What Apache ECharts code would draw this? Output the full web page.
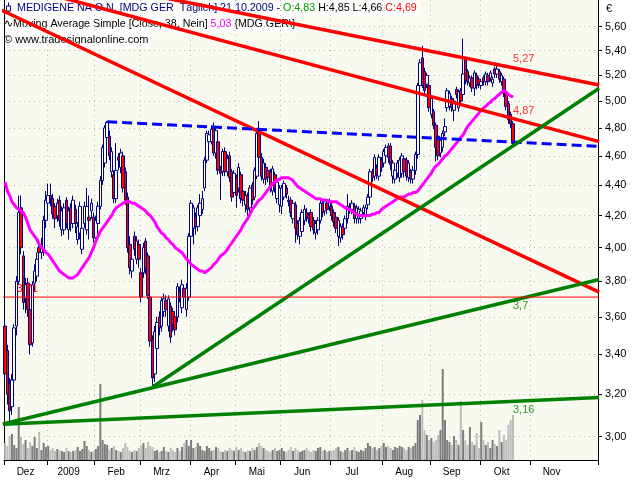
<!DOCTYPE html>
<html><head><meta charset="utf-8">
<script src="https://cdn.jsdelivr.net/npm/echarts@6/dist/echarts.min.js"></script>
<style>html,body{margin:0;padding:0;background:#fff}#c{width:640px;height:480px}</style>
</head><body><div id="c"></div>
<script>
// ---------- DATA ----------
const yTickValues = [3.0,3.2,3.4,3.6,3.8,4.0,4.2,4.4,4.6,4.8,5.0,5.2,5.4,5.6];
const monthTickLabels = ['Dez','2009','Feb','Mrz','Apr','Mai','Jun','Jul','Aug','Sep','Okt','Nov'];
const holidays = ['2008-12-24','2008-12-25','2008-12-26','2008-12-31','2009-01-01','2009-04-10','2009-04-13','2009-05-01','2009-12-24','2009-12-25','2009-12-31'];
const firstDay = '2008-12-01';
const totalSlots = 262;
// [open, close, low, high]
const candles = [
[3.55,3.30,3.26,3.58],[3.42,3.20,3.15,3.45],[3.25,3.12,3.05,3.28],[3.14,3.27,3.10,3.30],[3.27,3.54,3.22,3.56],
[3.55,3.80,3.50,3.83],[3.80,4.22,3.78,4.33],[4.25,4.00,3.96,4.33],[3.95,3.68,3.64,3.98],[3.70,3.78,3.62,3.82],
[3.79,3.64,3.60,3.82],[3.64,3.45,3.40,3.66],[3.46,3.78,3.44,3.80],[3.79,3.86,3.74,3.90],[3.83,3.93,3.80,3.97],
[4.00,3.97,3.93,4.05],[3.97,4.02,3.93,4.06],[3.99,4.17,3.95,4.20],[4.17,4.30,4.12,4.36],[4.28,4.33,4.24,4.41],
[4.33,4.31,4.26,4.41],[4.31,4.21,4.18,4.34],[4.26,4.18,4.12,4.28],[4.20,4.28,4.16,4.31],[4.30,4.17,4.13,4.33],
[4.11,4.23,4.07,4.26],[4.11,4.25,4.08,4.28],[4.30,4.15,4.12,4.32],[4.11,4.23,4.05,4.26],[4.25,4.15,4.10,4.28],
[4.15,4.30,4.12,4.33],[4.24,4.15,4.09,4.27],[4.05,4.13,4.02,4.16],[4.09,4.26,4.05,4.29],[3.99,4.12,3.96,4.15],
[4.15,4.26,4.12,4.29],[4.11,4.26,4.08,4.38],[4.19,4.17,4.05,4.33],[4.23,4.28,4.18,4.31],[4.19,4.06,4.03,4.22],
[4.06,4.17,4.02,4.20],[4.15,4.26,4.12,4.29],[4.26,4.43,4.24,4.46],[4.43,4.66,4.40,4.68],[4.55,4.80,4.52,4.82],
[4.73,4.84,4.70,4.85],[4.74,4.60,4.57,4.78],[4.49,4.63,4.45,4.66],[4.47,4.31,4.28,4.50],[4.31,4.50,4.28,4.69],
[4.59,4.57,4.50,4.62],[4.52,4.62,4.48,4.65],[4.60,4.38,4.35,4.63],[4.49,4.30,4.27,4.52],[4.32,4.00,3.97,4.35],
[4.02,3.88,3.84,4.07],[3.86,3.93,3.82,3.96],[4.07,3.99,3.95,4.10],[3.93,4.04,3.90,4.07],[4.02,3.93,3.88,4.05],
[3.85,3.71,3.68,3.88],[3.85,4.00,3.82,4.03],[4.04,3.88,3.84,4.06],[3.95,3.72,3.70,3.97],[3.71,3.47,3.44,3.73],
[3.48,3.28,3.235,3.50],[3.30,3.52,3.26,3.55],[3.43,3.57,3.40,3.60],[3.60,3.54,3.50,3.63],[3.55,3.69,3.52,3.71],
[3.63,3.70,3.60,3.73],[3.69,3.64,3.60,3.72],[3.55,3.70,3.52,3.72],[3.66,3.49,3.46,3.68],[3.63,3.56,3.52,3.65],
[3.60,3.53,3.50,3.62],[3.60,3.77,3.57,3.79],[3.74,3.71,3.68,3.77],[3.65,3.78,3.62,3.81],[3.76,3.71,3.66,3.78],
[3.64,3.76,3.60,3.79],[3.71,4.07,3.69,4.09],[4.07,4.28,4.04,4.30],[4.12,4.25,4.02,4.27],[4.19,4.13,4.08,4.22],
[4.13,4.25,4.10,4.27],[4.20,4.28,4.17,4.34],[4.24,4.31,4.21,4.36],[4.38,4.57,4.36,4.59],[4.57,4.76,4.55,4.78],
[4.70,4.75,4.67,4.78],[4.70,4.79,4.68,4.82],[4.80,4.62,4.60,4.84],[4.62,4.78,4.58,4.80],[4.70,4.50,4.47,4.73],
[4.50,4.48,4.30,4.53],[4.49,4.63,4.46,4.65],[4.63,4.49,4.46,4.66],[4.49,4.58,4.46,4.61],[4.60,4.45,4.42,4.63],
[4.49,4.32,4.29,4.51],[4.35,4.48,4.32,4.50],[4.45,4.33,4.25,4.47],[4.38,4.52,4.35,4.55],[4.47,4.31,4.28,4.49],
[4.36,4.30,4.26,4.38],[4.27,4.33,4.22,4.36],[4.33,4.24,4.20,4.35],[4.25,4.38,4.22,4.40],[4.40,4.30,4.27,4.42],
[4.32,4.50,4.30,4.52],[4.46,4.76,4.44,4.80],[4.79,4.59,4.57,4.85],[4.59,4.46,4.43,4.62],[4.44,4.55,4.41,4.58],
[4.52,4.44,4.40,4.55],[4.50,4.45,4.42,4.52],[4.49,4.38,4.35,4.51],[4.36,4.51,4.33,4.53],[4.47,4.38,4.35,4.49],
[4.31,4.42,4.28,4.44],[4.27,4.38,4.22,4.40],[4.26,4.38,4.21,4.40],[4.32,4.41,4.30,4.43],[4.38,4.34,4.31,4.40],
[4.30,4.29,4.26,4.33],[4.30,4.22,4.19,4.32],[4.18,4.28,4.15,4.30],[4.27,4.12,4.03,4.29],[4.15,4.08,4.05,4.17],
[4.07,4.17,4.02,4.19],[4.10,4.22,4.07,4.24],[4.17,4.24,4.14,4.27],[4.22,4.19,4.16,4.25],[4.20,4.18,4.15,4.22],
[4.22,4.13,4.10,4.24],[4.17,4.11,4.08,4.19],[4.09,4.15,4.05,4.17],[4.11,4.17,4.08,4.19],[4.17,4.28,4.15,4.30],
[4.28,4.22,4.19,4.30],[4.23,4.29,4.20,4.31],[4.28,4.24,4.21,4.30],[4.26,4.29,4.23,4.31],[4.26,4.20,4.17,4.28],
[4.22,4.16,4.13,4.24],[4.19,4.12,4.09,4.21],[4.07,4.17,4.01,4.19],[4.06,4.13,4.03,4.15],[4.13,4.08,4.05,4.15],
[4.12,4.18,4.09,4.20],[4.18,4.26,4.15,4.34],[4.26,4.24,4.21,4.28],[4.24,4.28,4.21,4.30],[4.26,4.18,4.15,4.28],
[4.18,4.25,4.15,4.27],[4.18,4.24,4.15,4.26],[4.18,4.23,4.15,4.25],[4.22,4.25,4.19,4.27],[4.20,4.25,4.17,4.27],
[4.27,4.32,4.24,4.34],[4.32,4.49,4.30,4.51],[4.49,4.45,4.42,4.51],[4.46,4.59,4.43,4.61],[4.52,4.47,4.44,4.54],
[4.46,4.59,4.43,4.61],[4.57,4.52,4.49,4.59],[4.55,4.63,4.52,4.65],[4.60,4.66,4.57,4.68],[4.67,4.59,4.55,4.69],
[4.67,4.54,4.50,4.69],[4.46,4.55,4.41,4.57],[4.44,4.50,4.41,4.52],[4.48,4.55,4.45,4.57],[4.45,4.57,4.42,4.59],
[4.48,4.60,4.45,4.62],[4.58,4.49,4.45,4.60],[4.57,4.46,4.43,4.59],[4.45,4.55,4.42,4.57],[4.49,4.44,4.41,4.51],
[4.44,4.50,4.41,4.53],[4.50,4.61,4.47,4.63],[4.61,5.12,4.58,5.14],[5.12,5.30,5.10,5.33],[5.34,5.12,5.10,5.44],
[5.23,5.08,5.05,5.26],[5.13,5.20,5.10,5.22],[5.12,4.95,4.92,5.14],[4.90,5.02,4.87,5.04],[4.92,4.82,4.79,4.94],
[4.82,4.66,4.56,4.84],[4.74,4.60,4.57,4.76],[4.62,4.71,4.59,4.73],[4.66,4.76,4.63,4.78],[4.77,4.81,4.74,4.87],
[4.95,5.08,4.92,5.10],[4.96,5.06,4.93,5.08],[5.02,4.95,4.92,5.04],[4.93,5.00,4.85,5.02],[5.09,5.05,5.02,5.11],
[4.95,5.07,4.92,5.09],[5.08,5.00,4.97,5.10],[5.05,5.21,5.02,5.50],[5.33,5.16,5.13,5.35],[5.23,5.15,5.12,5.25],
[5.14,5.18,5.11,5.20],[5.18,5.10,5.07,5.20],[5.10,5.22,5.04,5.24],[5.20,5.12,5.09,5.22],[5.17,5.13,5.10,5.19],
[5.12,5.15,5.09,5.17],[5.18,5.15,5.12,5.20],[5.15,5.21,5.12,5.23],[5.20,5.15,5.12,5.22],[5.18,5.22,5.15,5.24],
[5.14,5.17,5.11,5.19],[5.25,5.21,5.18,5.27],[5.21,5.25,5.18,5.28],[5.23,5.17,5.14,5.25],[5.15,5.20,5.12,5.22],
[5.17,5.06,5.03,5.19],[5.06,4.96,4.93,5.08],[4.98,4.86,4.83,5.00],[4.90,4.83,4.80,4.92],[4.83,4.69,4.66,4.85]
];
const ma38 = [
4.42,4.36,4.33,4.29,4.27,4.25,4.24,4.23,4.22,4.19,4.15,4.11,4.09,4.07,4.05,4.02,4.00,3.99,3.97,3.96,
3.94,3.92,3.90,3.88,3.86,3.85,3.84,3.83,3.82,3.82,3.82,3.83,3.84,3.86,3.88,3.90,3.92,3.94,3.97,4.00,
4.04,4.07,4.10,4.12,4.14,4.16,4.18,4.20,4.23,4.25,4.26,4.27,4.28,4.29,4.29,4.29,4.28,4.28,4.27,4.26,
4.25,4.24,4.23,4.21,4.20,4.18,4.16,4.13,4.11,4.09,4.08,4.06,4.05,4.03,4.02,4.00,3.99,3.98,3.97,3.95,
3.93,3.92,3.90,3.89,3.88,3.87,3.86,3.86,3.85,3.86,3.87,3.88,3.90,3.91,3.93,3.95,3.96,3.97,3.99,4.01,
4.03,4.05,4.07,4.09,4.11,4.14,4.16,4.18,4.21,4.24,4.26,4.28,4.30,4.31,4.33,4.35,4.37,4.39,4.41,4.42,
4.43,4.44,4.45,4.45,4.45,4.45,4.44,4.43,4.41,4.39,4.38,4.37,4.36,4.35,4.34,4.33,4.32,4.31,4.31,4.31,
4.30,4.30,4.30,4.29,4.29,4.29,4.29,4.28,4.27,4.26,4.25,4.24,4.24,4.23,4.22,4.21,4.20,4.20,4.20,4.20,
4.20,4.20,4.21,4.21,4.22,4.22,4.24,4.25,4.26,4.27,4.28,4.29,4.30,4.31,4.32,4.32,4.32,4.33,4.34,4.34,
4.35,4.35,4.36,4.38,4.40,4.42,4.44,4.46,4.48,4.51,4.53,4.54,4.56,4.58,4.60,4.61,4.63,4.65,4.67,4.69,
4.71,4.73,4.75,4.78,4.81,4.83,4.85,4.87,4.89,4.91,4.93,4.95,4.96,4.98,4.99,5.01,5.02,5.04,5.05,5.07,
5.08,5.07,5.05,5.04,5.03
];
const volume = [
17,14,24,26,15,12,53,23,16,20,12,18,14,23,12,28,10,17,13,
14,10,12,9,11,10,9,8,12,9,8,9,10,13,9,11,19,14,10,8,9,
11,14,76,20,16,15,10,12,14,10,9,8,12,17,13,9,8,10,9,12,
14,17,12,18,14,13,9,10,8,9,13,9,8,12,10,8,12,9,13,17,20,14,
20,12,13,17,14,10,9,14,12,9,10,13,12,9,8,10,9,12,10,9,
13,10,12,9,8,10,9,12,10,13,17,14,12,10,9,8,10,12,9,10,
12,9,8,10,13,9,12,10,8,9,10,12,9,8,10,9,12,13,9,10,8,9,
9,10,12,13,9,8,10,12,9,10,13,9,8,10,9,12,17,14,12,13,10,12,14,
17,13,14,12,10,13,12,14,13,12,10,13,12,14,17,40,45,60,30,25,20,
22,18,20,25,30,91,40,20,18,15,24,20,15,59,30,20,15,33,18,15,27,12,
38,20,15,18,12,20,16,14,30,18,25,20,35,40,45
];
// trend lines: [category index, price]
const trendUpperRed = [[60,5.893],[262,5.124]];
const trendMidRed = [[20,5.880],[262,4.701]];
const trendBigRed = [[-2,5.746],[262,3.738]];
const trendBlue = [[44.5,4.845],[262,4.666]];
const trendSteepGreen = [[65.2,3.235],[262,5.099]];
const trendMidGreen = [[-1,3.058],[262,3.811]];
const trendLowGreen = [[-1,3.057],[262,3.184]];
const supportLevel = 3.71;
const supportLine = [[-2,supportLevel],[262,supportLevel]];
const supportLabelIndex = 5;
// [category index, value, colour, side]
const lineLabels = [[224,5.27,'#ff0000','top'],[224,4.87,'#ff0000','top'],[224,3.7,'#008000','bottom'],[224,3.16,'#008000','bottom']];

// ---------- CATEGORIES ----------
const dates = [];
(function(){
  let d = new Date(firstDay + 'T12:00:00Z');
  while (dates.length < totalSlots) {
    const wd = d.getUTCDay();
    const s = d.toISOString().slice(0,10);
    if (wd !== 0 && wd !== 6 && holidays.indexOf(s) < 0) dates.push(s);
    d = new Date(d.getTime() + 86400000);
  }
})();
const monthStart = new Set(); const labelAt = {};
let mCount = 0;
for (let i = 0; i < dates.length; i++) {
  if (i === 0 || dates[i].slice(0,7) !== dates[i-1].slice(0,7)) {
    if (mCount < monthTickLabels.length) { monthStart.add(i); labelAt[i+9] = monthTickLabels[mCount]; }
    mCount++;
  }
}
const fmt = v => String(v).replace('.', ',');
const fmt2 = v => v.toFixed(2).replace('.', ',');
const last = candles[candles.length-1];
const lastDate = dates[candles.length-1].split('-').reverse().join('.');

const chart = echarts.init(document.getElementById('c'), null, {renderer:'canvas'});
const FONT = 'Liberation Sans';
const HF = '10.7px ' + FONT;
const trend = (data, color, width, type) => ({
  type:'line', data, symbol:'none', silent:true, clip:true, z:5,
  lineStyle:{color, width, type: type||'solid', cap:'butt'}
});
const supportSeries = trend(supportLine, '#ff0000', 1);
supportSeries.markPoint = {
  silent:true, symbol:'rect', symbolSize:1, itemStyle:{color:'rgba(0,0,0,0)'},
  label:{show:true, position:'top', align:'left', distance:2, color:'#ff0000', fontSize:11, fontFamily:FONT, formatter:fmt(supportLevel)},
  data:[{coord:[supportLabelIndex, supportLevel], value:supportLevel}]
};
supportSeries.z = 20;
chart.setOption({
  animation:false,
  backgroundColor:'#ffffff',
  grid:{left:4, right:42, top:0, bottom:20, show:true, backgroundColor:'#F8FAF0', borderWidth:0},
  xAxis:{
    type:'category', data:dates, boundaryGap:true,
    axisLine:{show:true, lineStyle:{color:'#000', width:1}},
    axisTick:{show:true, interval:(i)=>monthStart.has(i), length:5, lineStyle:{color:'#000'}},
    axisLabel:{interval:(i)=>labelAt[i]!==undefined, formatter:(v,i)=>labelAt[i]||'', fontSize:10, color:'#000', margin:7, fontFamily:FONT},
    splitLine:{show:true, interval:(i)=>monthStart.has(i), lineStyle:{color:'#b8b8b8', type:[1,4]}}
  },
  yAxis:[{
    type:'log', logBase:10, position:'right', min:2.895, max:5.832,
    axisLine:{show:true, lineStyle:{color:'#000'}},
    axisTick:{show:true, inside:false, length:4, customValues:yTickValues, lineStyle:{color:'#000'}},
    axisLabel:{customValues:yTickValues, formatter:fmt2, color:'#000', fontSize:11, margin:7, fontFamily:FONT},
    splitLine:{show:true, lineStyle:{color:'#b8b8b8', type:[1,4]}}
  },{
    type:'value', min:0, max:460, show:false
  },{
    type:'log', logBase:10, position:'left', min:2.895, max:5.832,
    axisLine:{show:true, lineStyle:{color:'#000'}}, axisTick:{show:false}, axisLabel:{show:false}, splitLine:{show:false}
  }],
  series:[
    {type:'bar', yAxisIndex:1, barWidth:2, silent:true, z:2,
     data: volume.map((v,i)=>({value:v, itemStyle:{color: candles[i][1] >= candles[i][0] ? '#7c7c7c' : '#bdbdbd'}}))},
    {type:'candlestick', data:candles, barWidth:3, silent:true, z:3,
     itemStyle:{color:'#ffffff', color0:'#ff0000', borderColor:'#000080', borderColor0:'#000080', borderWidth:1}},
    {type:'line', data:ma38, symbol:'none', silent:true, z:4, lineStyle:{color:'#ff00ff', width:3}},
    supportSeries,
    trend(trendUpperRed, '#ff0000', 3.5),
    trend(trendMidRed, '#ff0000', 3.5),
    trend(trendBigRed, '#ff0000', 3.5),
    trend(trendBlue, '#0000ff', 3, [10,5]),
    trend(trendSteepGreen, '#008000', 3.5),
    trend(trendMidGreen, '#008000', 3.5),
    trend(trendLowGreen, '#008000', 3.5),
    {type:'scatter', symbolSize:0, silent:true, z:20,
     data: lineLabels.map(l=>({value:[l[0],l[1]], label:{show:true, position:l[3], align:'left', distance:2,
       formatter:fmt(l[1]), color:l[2], fontSize:11, fontFamily:FONT}}))}
  ],
  graphic:[
    {type:'text', left:606, top:3, style:{text:'€', fill:'#000', font:'11px '+FONT}},
    {type:'group', left:0, top:0, children:[
      {type:'rect', shape:{x:0,y:0,width:420,height:16}, style:{fill:'rgba(255,255,255,0.72)'}},
      {type:'rect', shape:{x:0,y:16,width:296,height:16}, style:{fill:'rgba(255,255,255,0.72)'}},
      {type:'rect', shape:{x:0,y:32,width:150,height:16}, style:{fill:'rgba(255,255,255,0.72)'}},
      {type:'line', shape:{x1:8.5,y1:2,x2:8.5,y2:14}, style:{stroke:'#000080', lineWidth:1}},
      {type:'rect', shape:{x:6.5,y:5.5,width:4,height:5}, style:{fill:'#fff', stroke:'#000080', lineWidth:1}},
      {type:'text', x:17, y:2, style:{
        text:'{n|MEDIGENE NA O.N. [MDG GER  Täglich] '+lastDate+' - }{g|O:'+fmt2(last[0])+'} {k|H:'+fmt2(last[3])+' L:'+fmt2(last[2])+'} {r|C:'+fmt2(last[1])+'}',
        font:HF, rich:{n:{fill:'#000080', font:HF}, g:{fill:'#00a000', font:HF}, k:{fill:'#000000', font:HF}, r:{fill:'#ff0000', font:HF}}}},
      {type:'text', x:4, y:18, style:{
        text:'{k|∿Moving Average Simple [Close, 38, Nein] }{m|'+fmt2(ma38[ma38.length-1])+'}{k| {MDG GER\\}}',
        font:HF, rich:{k:{fill:'#000', font:HF}, m:{fill:'#ff00ff', font:HF}}}},
      {type:'text', x:4, y:34, style:{text:'© www.tradesignalonline.com', fill:'#000', font:'11px '+FONT}}
    ]}
  ]
});
</script></body></html>
